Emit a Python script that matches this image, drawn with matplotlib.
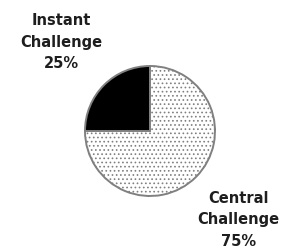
import matplotlib
matplotlib.use('Agg')
import matplotlib.pyplot as plt

names = ['Instant\nChallenge', 'Central\nChallenge']
shares = [25, 75]
faces = ['black', 'white']
hatches = ['', '....']

labels = [n + '\n' + str(s) + '%' for n, s in zip(names, shares)]

plt.rcParams['hatch.linewidth'] = 0.7

fig = plt.figure(figsize=(2.88, 2.5), dpi=100)
ax = fig.add_axes([0, 0, 1, 1])
r = 65.0

wedges, texts = ax.pie(shares, labels=labels, colors=faces, startangle=90,
                       counterclock=True, labeldistance=1.93,
                       wedgeprops={'edgecolor': '#808080', 'linewidth': 1.4},
                       textprops={'ha': 'center', 'va': 'center',
                                  'multialignment': 'center',
                                  'fontsize': 10.5, 'fontweight': 'bold',
                                  'color': '#1e1e1e', 'linespacing': 1.55})
for w, h in zip(wedges, hatches):
    w.set_hatch(h)
ax.set_xlim(-150 / r, 138 / r)
ax.set_ylim(-119 / r, 131 / r)
ax.set_aspect('equal')
ax.axis('off')

fig.savefig('out.png', dpi=100)
